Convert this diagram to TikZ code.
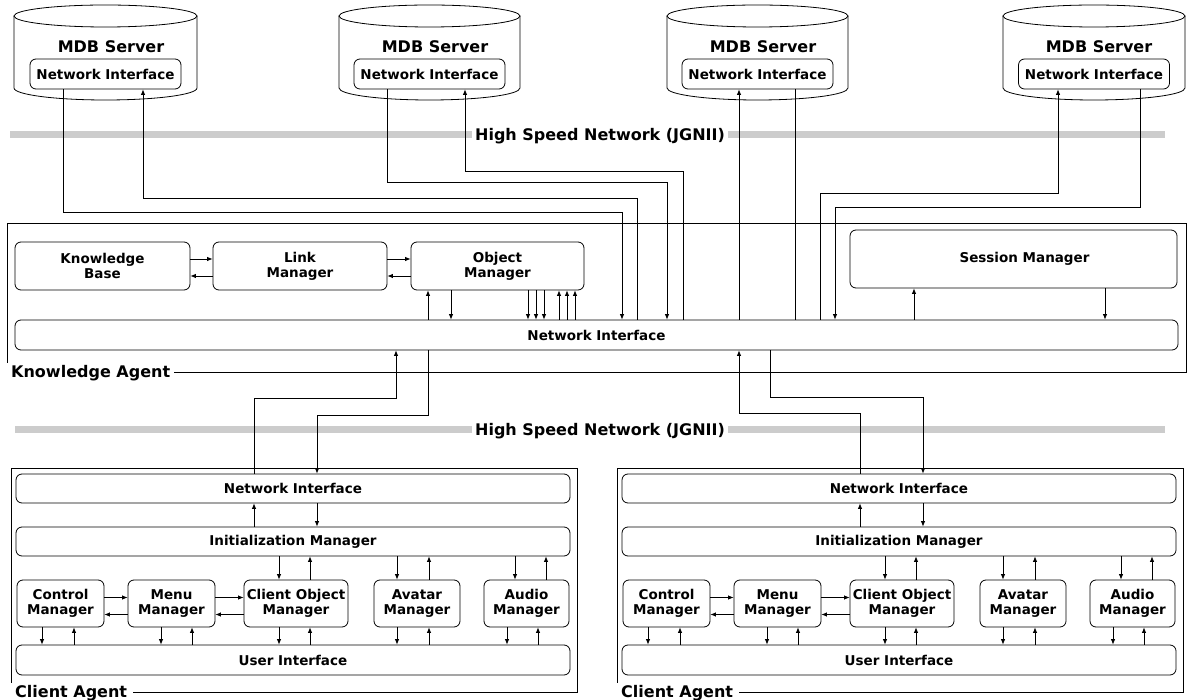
\documentclass[tikz,border=0pt]{standalone}
\usepackage{fontspec}
\setmainfont{DejaVu Sans}
\usetikzlibrary{arrows.meta}
\newcommand{\lblbig}{\fontsize{16}{18}\selectfont\bfseries}
\newcommand{\lblbox}{\fontsize{13.5}{15}\selectfont\bfseries}
\newcommand{\clientagent}[2]{%
\begin{scope}[xshift=#2]
\draw[ln] (11,468) rectangle (577,692);
\node[agentlbl, anchor=west, inner xsep=6pt] (#1lbl) at (9,693) {Client Agent};
\node[rbox, minimum width=554, minimum height=29] (#1ni) at (293,488.5) {Network Interface};
\node[rbox, minimum width=554, minimum height=29] (#1init) at (293,541.5) {Initialization Manager};
\node[rbox, minimum width=554, minimum height=30] (#1ui) at (293,660) {User Interface};
\node[rbox, minimum width=87, minimum height=47] (#1ctrl) at (60.5,603.5) {Control\\Manager};
\node[rbox, minimum width=87, minimum height=47] (#1menu) at (171.5,603.5) {Menu\\Manager};
\node[rbox, minimum width=104, minimum height=47] (#1com) at (296,603.5) {Client Object\\Manager};
\node[rbox, minimum width=86, minimum height=47] (#1av) at (417,603.5) {Avatar\\Manager};
\node[rbox, minimum width=85, minimum height=47] (#1au) at (526.5,603.5) {Audio\\Manager};
\draw[ar] (#1init.north -| 254,0) -- (#1ni.south -| 254,0);
\draw[ar] (#1ni.south -| 317,0) -- (#1init.north -| 317,0);
\draw[ar] (#1init.south -| 279,0) -- (#1com.north -| 279,0);
\draw[ar] (#1com.north -| 310,0) -- (#1init.south -| 310,0);
\draw[ar] (#1init.south -| 397,0) -- (#1av.north -| 397,0);
\draw[ar] (#1av.north -| 429,0) -- (#1init.south -| 429,0);
\draw[ar] (#1init.south -| 515,0) -- (#1au.north -| 515,0);
\draw[ar] (#1au.north -| 546,0) -- (#1init.south -| 546,0);
\draw[ar] (#1ctrl.south -| 42,0) -- (#1ui.north -| 42,0);
\draw[ar] (#1ui.north -| 74,0) -- (#1ctrl.south -| 74,0);
\draw[ar] (#1menu.south -| 161,0) -- (#1ui.north -| 161,0);
\draw[ar] (#1ui.north -| 192,0) -- (#1menu.south -| 192,0);
\draw[ar] (#1com.south -| 279,0) -- (#1ui.north -| 279,0);
\draw[ar] (#1ui.north -| 310,0) -- (#1com.south -| 310,0);
\draw[ar] (#1av.south -| 397,0) -- (#1ui.north -| 397,0);
\draw[ar] (#1ui.north -| 429,0) -- (#1av.south -| 429,0);
\draw[ar] (#1au.south -| 507,0) -- (#1ui.north -| 507,0);
\draw[ar] (#1ui.north -| 538,0) -- (#1au.south -| 538,0);
\draw[ar] ([yshift=6pt]#1ctrl.east) -- ([yshift=6pt]#1menu.west);
\draw[ar] ([yshift=-11pt]#1menu.west) -- ([yshift=-11pt]#1ctrl.east);
\draw[ar] ([yshift=6pt]#1menu.east) -- ([yshift=6pt]#1com.west);
\draw[ar] ([yshift=-11pt]#1com.west) -- ([yshift=-11pt]#1menu.east);
\end{scope}}
\begin{document}
\begin{tikzpicture}[x=1pt,y=-1pt,
  ln/.style={line width=0.8pt},
  ar/.style={line width=0.8pt,-{Latex[length=5.5pt,width=4.5pt]}},
  rbox/.style={draw,line width=0.8pt,rounded corners=6pt,inner sep=0pt,align=center,font=\lblbox},
  agentlbl/.style={font=\lblbig,fill=white,inner ysep=2pt},
  band/.style={line width=7pt,gray!40},
  netlbl/.style={font=\lblbig,fill=white,inner sep=3pt}]
\useasboundingbox (0,0) rectangle (1189,700);
\fill[white] (0,0) rectangle (1189,700);
% network bands
\draw[band] (10,135) -- (1165,135);
\draw[band] (15,430) -- (1165,430);
\node[netlbl] (net1) at (600,136) {High Speed Network (JGNII)};
\node[netlbl] (net2) at (600,431) {High Speed Network (JGNII)};
% MDB servers
\draw[ln] (14,16) -- (14,88) arc[start angle=180,end angle=0,x radius=91.5,y radius=12] -- (197,16);
\draw[ln] (105.5,16) ellipse[x radius=91.5,y radius=11];
\draw[ln] (339,16) -- (339,88) arc[start angle=180,end angle=0,x radius=90.5,y radius=12] -- (520,16);
\draw[ln] (429.5,16) ellipse[x radius=90.5,y radius=11];
\draw[ln] (667,16) -- (667,88) arc[start angle=180,end angle=0,x radius=90.5,y radius=12] -- (848,16);
\draw[ln] (757.5,16) ellipse[x radius=90.5,y radius=11];
\draw[ln] (1003,16) -- (1003,88) arc[start angle=180,end angle=0,x radius=91,y radius=12] -- (1185,16);
\draw[ln] (1094,16) ellipse[x radius=91,y radius=11];
\node[font=\lblbig] (s1lbl) at (111,47) {MDB Server};
\node[font=\lblbig] (s2lbl) at (435,47) {MDB Server};
\node[font=\lblbig] (s3lbl) at (763,47) {MDB Server};
\node[font=\lblbig] (s4lbl) at (1099,47) {MDB Server};
\node[rbox, minimum width=151, minimum height=30] (s1ni) at (105.5,74) {Network Interface};
\node[rbox, minimum width=151, minimum height=30] (s2ni) at (429.5,74) {Network Interface};
\node[rbox, minimum width=151, minimum height=30] (s3ni) at (757.5,74) {Network Interface};
\node[rbox, minimum width=151, minimum height=30] (s4ni) at (1094,74) {Network Interface};
% Knowledge agent
\draw[ln] (7,223) rectangle (1186,372);
\node[agentlbl, anchor=west, inner xsep=4pt] (kalbl) at (7,373) {Knowledge Agent};
\node[rbox, minimum width=175, minimum height=48] (kb) at (102.5,266) {Knowledge\\Base};
\node[rbox, minimum width=174, minimum height=48] (lm) at (300,266) {Link\\Manager};
\node[rbox, minimum width=173, minimum height=48] (om) at (497.5,266) {Object\\Manager};
\node[rbox, minimum width=327, minimum height=58] (sm) at (1013.5,259) {\hspace*{22pt}Session Manager};
\node[rbox, minimum width=1163, minimum height=30] (kani) at (596.5,335) {Network Interface};
\draw[ar] ([yshift=7pt]kb.east) -- ([yshift=7pt]lm.west);
\draw[ar] ([yshift=-10pt]lm.west) -- ([yshift=-10pt]kb.east);
\draw[ar] ([yshift=7pt]lm.east) -- ([yshift=7pt]om.west);
\draw[ar] ([yshift=-10pt]om.west) -- ([yshift=-10pt]lm.east);
\draw[ar] (kani.north -| 428,0) -- (om.south -| 428,0);
\draw[ar] (om.south -| 451,0) -- (kani.north -| 451,0);
\foreach \x in {528,536,544} \draw[ar] (om.south -| \x,0) -- (kani.north -| \x,0);
\foreach \x in {559,567,575} \draw[ar] (kani.north -| \x,0) -- (om.south -| \x,0);
\draw[ar] (kani.north -| 914,0) -- (sm.south -| 914,0);
\draw[ar] (sm.south -| 1105,0) -- (kani.north -| 1105,0);
% servers <-> knowledge agent
\draw[ar] (s1ni.south -| 63,0) -- (63,212) -| (kani.north -| 622,0);
\draw[ar] (kani.north -| 637,0) -- (637,198) -| (s1ni.south -| 143,0);
\draw[ar] (s2ni.south -| 387,0) -- (387,182) -| (kani.north -| 667,0);
\draw[ar] (kani.north -| 683,0) -- (683,171) -| (s2ni.south -| 465,0);
\draw[ar] (kani.north -| 739,0) -- (s3ni.south -| 739,0);
\draw[ln] (s3ni.south -| 795,0) -- (kani.north -| 795,0);
\draw[ar] (kani.north -| 820,0) -- (820,193) -| (s4ni.south -| 1058,0);
\draw[ar] (s4ni.south -| 1140,0) -- (1140,207) -| (kani.north -| 835,0);
% client agents
\clientagent{ca}{0}
\clientagent{cb}{606}
\draw[ar] (cani.north -| 254,0) -- (254,398) -| (kani.south -| 396,0);
\draw[ar] (kani.south -| 428,0) -- (428,415) -| (cani.north -| 317,0);
\draw[ar] (cbni.north -| 860,0) -- (860,413) -| (kani.south -| 739,0);
\draw[ar] (kani.south -| 770,0) -- (770,397) -| (cbni.north -| 923,0);
\end{tikzpicture}
\end{document}
